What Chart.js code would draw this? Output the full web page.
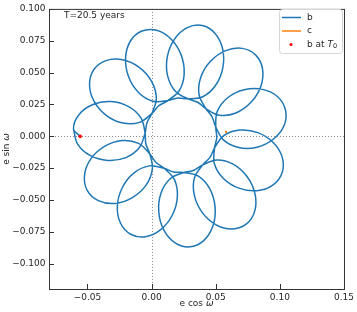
<!DOCTYPE html>
<html>
<head>
<meta charset="utf-8">
<script src="https://cdn.jsdelivr.net/npm/chart.js@4.4.0/dist/chart.umd.min.js"></script>
<style>
    html, body { margin: 0; padding: 0; background: #fff; }
    #wrap { width: 357px; height: 312px; }
</style>
</head>
<body>
<div id="wrap"><canvas id="chart" width="357" height="312"></canvas></div>
<script>
// Planet b: e cos(omega), e sin(omega) along the run (first point is T0)
const bX = [
    -0.0557,
    -0.0609, -0.0565, -0.0458, -0.0317, -0.0179, -0.0082, -0.0051, -0.0045,
    -0.0015, 0.0006, -0.0043, -0.0150, -0.0286, -0.0415, -0.0502, -0.0523, -0.0474, -0.0367, -0.0231, -0.0102, -0.0015, 0.0033,
    0.0098, 0.0178, 0.0201, 0.0162, 0.0071, -0.0048, -0.0163, -0.0243, -0.0267, -0.0228, -0.0137, -0.0017, 0.0098, 0.0172,
    0.0252, 0.0365, 0.0454, 0.0495, 0.0478, 0.0406, 0.0299, 0.0186, 0.0097, 0.0056, 0.0073, 0.0145, 0.0252, 0.0330,
    0.0399, 0.0509, 0.0635, 0.0744, 0.0806, 0.0804, 0.0740, 0.0629, 0.0503, 0.0394, 0.0333, 0.0334, 0.0399, 0.0455,
    0.0491, 0.0563, 0.0687, 0.0828, 0.0950, 0.1019, 0.1017, 0.0945, 0.0821, 0.0680, 0.0558, 0.0489, 0.0491, 0.0508,
    0.0500, 0.0512, 0.0593, 0.0722, 0.0865, 0.0983, 0.1044, 0.1033, 0.0951, 0.0822, 0.0679, 0.0562, 0.0500, 0.0472,
    0.0423, 0.0370, 0.0383, 0.0459, 0.0578, 0.0707, 0.0812, 0.0865, 0.0852, 0.0775, 0.0657, 0.0528, 0.0423, 0.0359,
    0.0284, 0.0183, 0.0124, 0.0123, 0.0180, 0.0279, 0.0395, 0.0495, 0.0554, 0.0555, 0.0498, 0.0399, 0.0284, 0.0204,
    0.0127, 0.0010, -0.0102, -0.0180, -0.0203, -0.0165, -0.0076, 0.0040, 0.0153, 0.0231, 0.0254, 0.0216, 0.0127, 0.0057,
    0.0002, -0.0093, -0.0223, -0.0354, -0.0449, -0.0484, -0.0450, -0.0355, -0.0225, -0.0094, 0.0001, 0.0037, 0.0002, -0.0036,
    -0.0051, -0.0095, -0.0201, -0.0343, -0.0480, -0.0578, -0.0609
];
const bY = [
    -0.0001,
    0.0058, 0.0171, 0.0249, 0.0272, 0.0232, 0.0142, 0.0024, -0.0059,
    -0.0137, -0.0257, -0.0384, -0.0482, -0.0528, -0.0506, -0.0425, -0.0305, -0.0178, -0.0080, -0.0034, -0.0056, -0.0137, -0.0204,
    -0.0252, -0.0341, -0.0475, -0.0619, -0.0734, -0.0790, -0.0770, -0.0682, -0.0547, -0.0403, -0.0288, -0.0233, -0.0252, -0.0281,
    -0.0285, -0.0314, -0.0414, -0.0557, -0.0706, -0.0820, -0.0869, -0.0840, -0.0740, -0.0597, -0.0448, -0.0334, -0.0285, -0.0267,
    -0.0225, -0.0186, -0.0219, -0.0316, -0.0451, -0.0588, -0.0689, -0.0729, -0.0696, -0.0598, -0.0463, -0.0327, -0.0225, -0.0166,
    -0.0092, 0.0004, 0.0048, 0.0028, -0.0051, -0.0166, -0.0289, -0.0384, -0.0428, -0.0408, -0.0330, -0.0214, -0.0092, -0.0010,
    0.0073, 0.0195, 0.0302, 0.0365, 0.0368, 0.0310, 0.0206, 0.0084, -0.0022, -0.0086, -0.0089, -0.0031, 0.0073, 0.0151,
    0.0217, 0.0326, 0.0462, 0.0588, 0.0672, 0.0690, 0.0637, 0.0529, 0.0393, 0.0266, 0.0182, 0.0165, 0.0217, 0.0267,
    0.0294, 0.0356, 0.0478, 0.0627, 0.0765, 0.0853, 0.0869, 0.0807, 0.0685, 0.0535, 0.0398, 0.0310, 0.0294, 0.0300,
    0.0280, 0.0275, 0.0344, 0.0469, 0.0617, 0.0748, 0.0826, 0.0832, 0.0762, 0.0637, 0.0489, 0.0359, 0.0280, 0.0240,
    0.0179, 0.0109, 0.0103, 0.0164, 0.0275, 0.0407, 0.0524, 0.0594, 0.0600, 0.0539, 0.0428, 0.0296, 0.0179, 0.0106,
    0.0024, -0.0089, -0.0168, -0.0190, -0.0151, -0.0060, 0.0058
];

// Planet c: barely moves
const cX = [0.0574, 0.0580];
const cY = [0.0034, 0.0043];

// b at T0
const t0X = [-0.0557];
const t0Y = [-0.0001];

// Axes
const xTicks = [-0.05, 0.00, 0.05, 0.10, 0.15];
const yTicks = [-0.100, -0.075, -0.050, -0.025, 0.000, 0.025, 0.050, 0.075, 0.100];
const xRange = [-0.08, 0.15];
const yRange = [-0.12, 0.10];
const runLabel = 'T=20.5 years';

const FONT = 'DejaVu Sans';
const TEXT = '#262626';
const BLUE = '#1f77b4';
const ORANGE = '#ff7f0e';
const RED = '#ff0000';

const toPoints = (xs, ys) => xs.map((x, i) => ({ x: x, y: ys[i] }));

const fmt = (v, d) => {
    const s = Math.abs(v).toFixed(d);
    return (v < -1e-9 ? '\u2212' : '') + s;
};

// Draw a string made of parts (some italic / subscript)
function drawParts(ctx, parts, x, y, align) {
    const widths = parts.map(p => {
        ctx.font = (p.italic ? 'italic ' : '') + (p.size || 9) + 'px "' + FONT + '"';
        return ctx.measureText(p.t).width;
    });
    const total = widths.reduce((a, b) => a + b, 0);
    let cx = align === 'center' ? x - total / 2 : x;
    parts.forEach((p, i) => {
        ctx.font = (p.italic ? 'italic ' : '') + (p.size || 9) + 'px "' + FONT + '"';
        ctx.fillText(p.t, cx, y + (p.dy || 0));
        cx += widths[i];
    });
}

// Frame, inward ticks, zero lines, titles, legend
const decorPlugin = {
    id: 'decor',
    beforeDatasetsDraw(chart) {
        const { ctx, chartArea: a, scales: { x, y } } = chart;
        ctx.save();
        ctx.strokeStyle = '#8a8a8a';
        ctx.lineWidth = 1;
        ctx.setLineDash([1, 2]);
        const x0 = Math.round(x.getPixelForValue(0)) + 0.5;
        const y0 = Math.round(y.getPixelForValue(0)) + 0.5;
        ctx.beginPath();
        ctx.moveTo(x0, a.top);
        ctx.lineTo(x0, a.bottom);
        ctx.moveTo(a.left, y0);
        ctx.lineTo(a.right, y0);
        ctx.stroke();
        ctx.restore();
    },
    afterDraw(chart) {
        const { ctx, chartArea: a, scales: { x, y } } = chart;
        ctx.save();

        // Frame
        ctx.strokeStyle = '#333';
        ctx.lineWidth = 1;
        ctx.strokeRect(a.left + 0.5, a.top + 0.5, a.right - a.left, a.bottom - a.top);

        // Inward ticks
        ctx.beginPath();
        xTicks.forEach(v => {
            const px = Math.round(x.getPixelForValue(v)) + 0.5;
            ctx.moveTo(px, a.bottom);
            ctx.lineTo(px, a.bottom - 5);
        });
        yTicks.forEach(v => {
            const py = Math.round(y.getPixelForValue(v)) + 0.5;
            ctx.moveTo(a.left, py);
            ctx.lineTo(a.left + 5, py);
        });
        ctx.stroke();

        // Axis titles
        ctx.fillStyle = TEXT;
        ctx.textBaseline = 'middle';
        ctx.textAlign = 'left';
        drawParts(ctx, [{ t: 'e cos ' }, { t: '\u03c9', italic: true }], (a.left + a.right) / 2, 303.5, 'center');
        ctx.save();
        ctx.translate(6.5, (a.top + a.bottom) / 2);
        ctx.rotate(-Math.PI / 2);
        drawParts(ctx, [{ t: 'e sin ' }, { t: '\u03c9', italic: true }], 0, 0, 'center');
        ctx.restore();

        // Run length label
        drawParts(ctx, [{ t: runLabel }], 64, 16, 'left');

        // Legend
        const lx = 279, ly = 9, lw = 63, lh = 44;
        ctx.beginPath();
        ctx.roundRect(lx + 0.5, ly + 0.5, lw, lh, 3);
        ctx.fillStyle = 'rgba(255,255,255,0.85)';
        ctx.fill();
        ctx.strokeStyle = '#d6d6d6';
        ctx.lineWidth = 1;
        ctx.stroke();

        const rows = [17.5, 31, 44.5];
        ctx.lineWidth = 1.5;
        ctx.strokeStyle = BLUE;
        ctx.beginPath();
        ctx.moveTo(282, rows[0]);
        ctx.lineTo(301, rows[0]);
        ctx.stroke();
        ctx.strokeStyle = ORANGE;
        ctx.beginPath();
        ctx.moveTo(282, rows[1]);
        ctx.lineTo(301, rows[1]);
        ctx.stroke();
        ctx.fillStyle = RED;
        ctx.beginPath();
        ctx.arc(291, rows[2], 1.5, 0, Math.PI * 2);
        ctx.fill();

        ctx.fillStyle = TEXT;
        drawParts(ctx, [{ t: 'b' }], 307, rows[0], 'left');
        drawParts(ctx, [{ t: 'c' }], 307, rows[1], 'left');
        drawParts(ctx, [{ t: 'b at ' }, { t: 'T', italic: true }, { t: '0', size: 6.5, dy: 2 }], 307, rows[2], 'left');

        ctx.restore();
    }
};

const tickFont = { family: FONT, size: 9 };

new Chart(document.getElementById('chart').getContext('2d'), {
    type: 'scatter',
    data: {
        datasets: [{
            label: 'b at T0',
            data: toPoints(t0X, t0Y),
            backgroundColor: RED,
            borderColor: RED,
            pointRadius: 1.8,
            pointBorderWidth: 0,
            showLine: false,
            order: 0
        }, {
            label: 'c',
            data: toPoints(cX, cY),
            borderColor: ORANGE,
            borderWidth: 2,
            pointRadius: 0,
            showLine: true,
            order: 1
        }, {
            label: 'b',
            data: toPoints(bX, bY),
            borderColor: BLUE,
            borderWidth: 1.5,
            pointRadius: 0,
            showLine: true,
            tension: 0.35,
            order: 2
        }]
    },
    options: {
        responsive: false,
        animation: false,
        devicePixelRatio: 1,
        layout: { padding: { top: 5, right: 11, bottom: 0, left: 0 } },
        plugins: {
            legend: { display: false },
            tooltip: { enabled: false }
        },
        scales: {
            x: {
                type: 'linear',
                min: xRange[0],
                max: xRange[1],
                grid: { display: false, drawTicks: false },
                border: { display: false },
                afterBuildTicks: s => { s.ticks = xTicks.map(v => ({ value: v })); },
                afterFit: s => { s.height = 23; },
                ticks: {
                    font: tickFont,
                    color: TEXT,
                    padding: 3,
                    maxRotation: 0,
                    autoSkip: false,
                    callback: v => fmt(v, 2)
                }
            },
            y: {
                type: 'linear',
                min: yRange[0],
                max: yRange[1],
                grid: { display: false, drawTicks: false },
                border: { display: false },
                afterBuildTicks: s => { s.ticks = yTicks.map(v => ({ value: v })); },
                afterFit: s => { s.width = 49; },
                ticks: {
                    font: tickFont,
                    color: TEXT,
                    padding: 3.5,
                    autoSkip: false,
                    callback: v => fmt(v, 3)
                }
            }
        }
    },
    plugins: [decorPlugin]
});
</script>
</body>
</html>
